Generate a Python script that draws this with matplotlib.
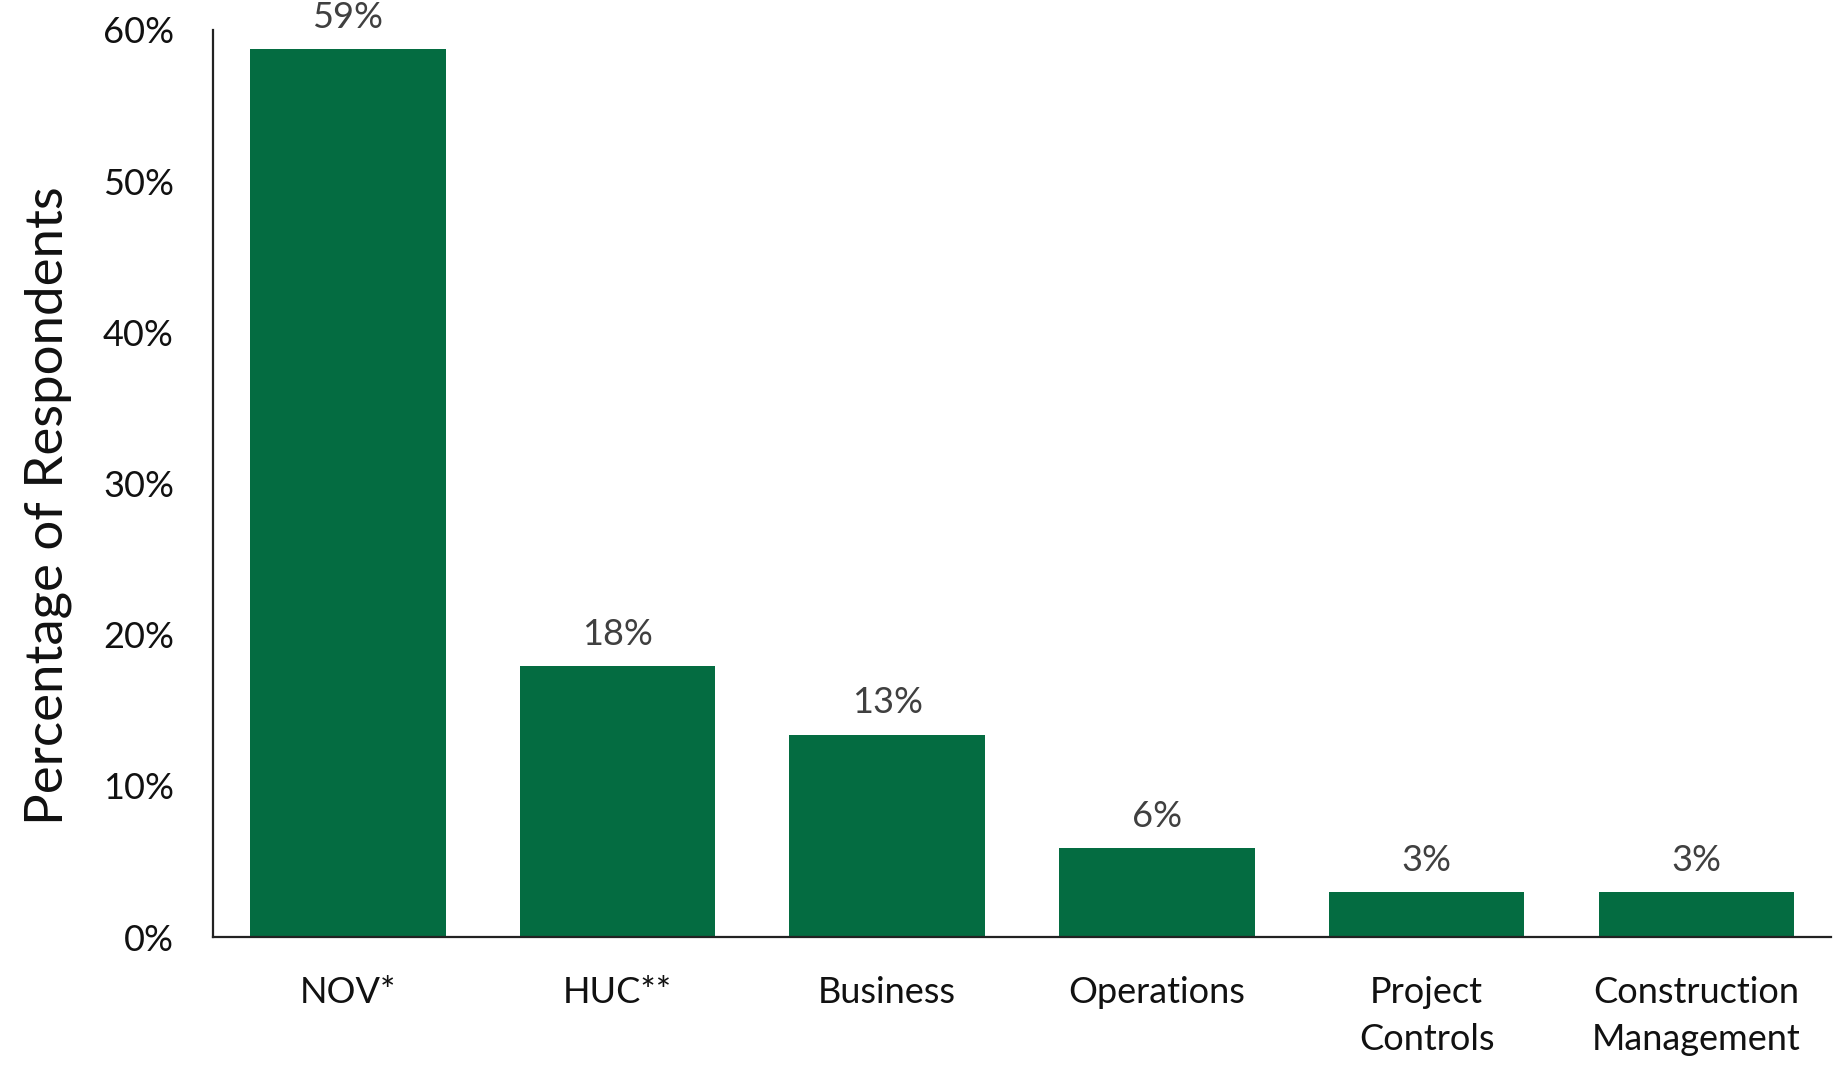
import matplotlib
matplotlib.use("Agg")
from matplotlib import pyplot as plt
from matplotlib.ticker import FuncFormatter

plt.rcParams['font.family'] = ['Lato', 'DejaVu Sans']

categories = ["NOV*", "HUC**", "Business", "Operations", "Project\nControls", "Construction\nManagement"]
shares = [58.7, 17.9, 13.4, 5.9, 3.0, 3.0]
y_ticks = [0, 10, 20, 30, 40, 50, 60]

green = "#046c41"

fig = plt.figure(figsize=(18.35, 10.65), dpi=100)
ax = fig.add_axes([0.116, 0.120, 0.882, 0.852])

x = range(len(categories))
bars = ax.bar(x, shares, width=0.725, color=green)

for rect, val in zip(bars, shares):
    ax.text(rect.get_x() + rect.get_width() / 2, val + 1.0, "%d%%" % round(val),
            ha='center', va='bottom', fontsize=26, color='#404040')

ax.set_xlim(-0.5, len(categories) - 0.5)
ax.set_ylim(0, 60)
ax.set_yticks(y_ticks)
ax.yaxis.set_major_formatter(FuncFormatter(lambda v, p: "%d%%" % v))
ax.set_xticks(list(x))
ax.set_xticklabels(categories, fontsize=26, color='#111111', linespacing=1.5)
ax.tick_params(axis='y', labelsize=26, labelcolor='#111111', length=0, pad=28)
ax.tick_params(axis='x', length=0, pad=28)

ax.set_ylabel("Percentage of Respondents", fontsize=38, color='#111111')
ax.yaxis.set_label_coords(-0.087, 0.476)

for side in ['top', 'right']:
    ax.spines[side].set_visible(False)
for side in ['left', 'bottom']:
    ax.spines[side].set_linewidth(1.6)
    ax.spines[side].set_color('#222222')

fig.savefig("out.png", dpi=100)
